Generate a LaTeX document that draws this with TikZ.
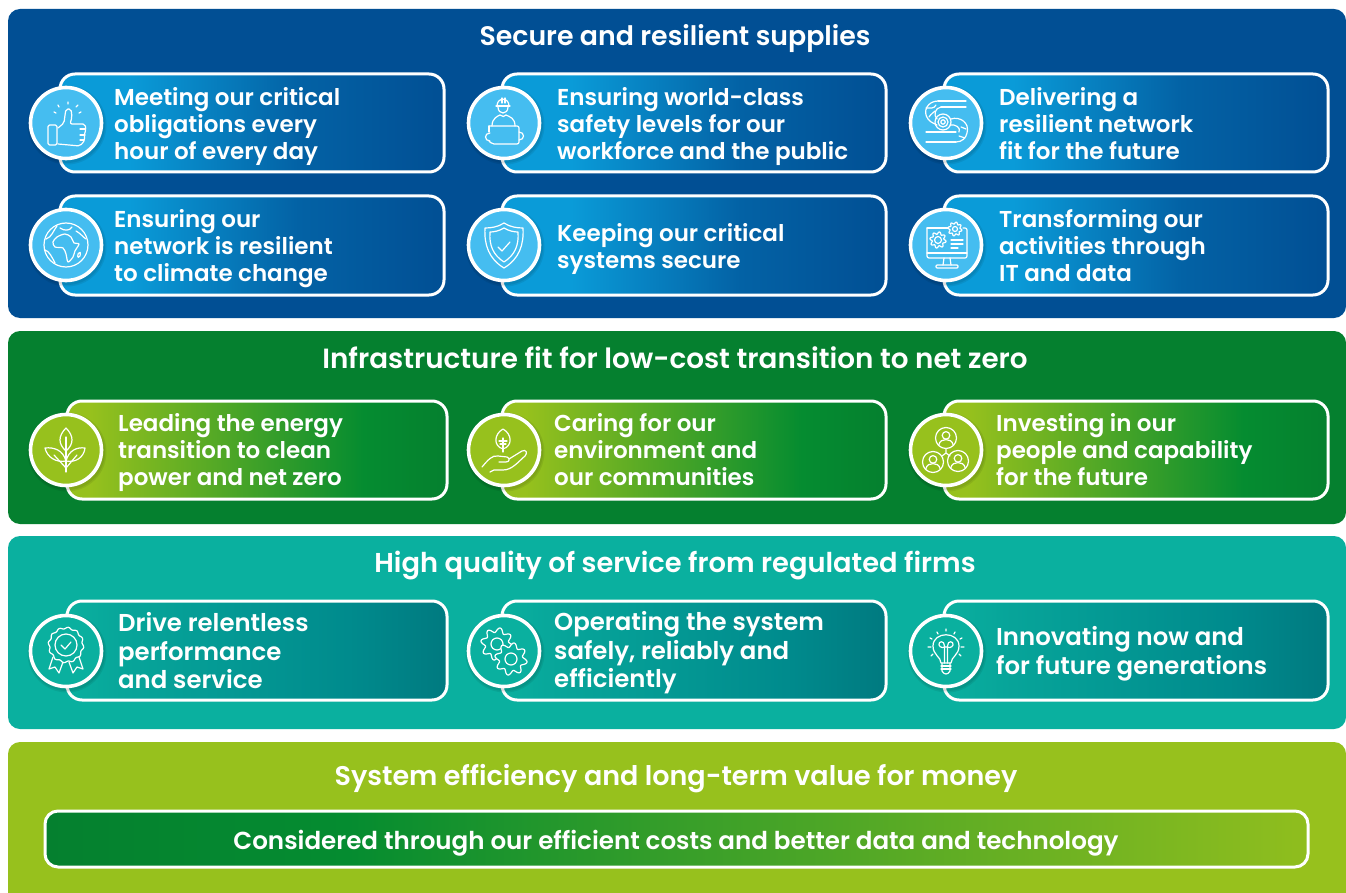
\documentclass[tikz,border=0pt]{standalone}
\usepackage{fontspec}
\setmainfont{Poppins}[BoldFont={Poppins SemiBold}]
\usetikzlibrary{shapes.geometric}
\definecolor{navy}{HTML}{014F94}
\definecolor{sky}{HTML}{0A9BD8}
\definecolor{skyfill}{HTML}{45BDF0}
\definecolor{forest}{HTML}{05802F}
\definecolor{forestb}{HTML}{058C30}
\definecolor{lime}{HTML}{97C11D}
\definecolor{teal2}{HTML}{0AB09F}
\definecolor{tealb}{HTML}{008B8D}
\definecolor{teald}{HTML}{007A80}
\pgfdeclarehorizontalshading{bluecard}{100bp}{color(0bp)=(sky);color(25bp)=(sky);color(34bp)=(sky);color(56bp)=(navy!75!sky);color(75bp)=(navy);color(100bp)=(navy)}
\pgfdeclarehorizontalshading{greencard}{100bp}{color(0bp)=(lime);color(25bp)=(lime);color(28bp)=(lime);color(64bp)=(forestb);color(75bp)=(forest);color(100bp)=(forest)}
\pgfdeclarehorizontalshading{tealcard}{100bp}{color(0bp)=(teal2);color(25bp)=(teal2);color(33bp)=(teal2!70!tealb);color(62bp)=(tealb);color(75bp)=(teald);color(100bp)=(teald)}
\pgfdeclarehorizontalshading{barshade}{100bp}{color(0bp)=(forest);color(25bp)=(forest);color(37bp)=(forestb);color(60bp)=(forestb!40!lime);color(75bp)=(lime!95!forest);color(100bp)=(lime!95!forest)}
\tikzset{
  x=1pt,y=-1pt,
  panel/.style={rectangle,rounded corners=12pt,inner sep=0pt,outer sep=0pt},
  cardbox/.style={rectangle,rounded corners=15pt,draw=white,line width=3pt,inner sep=0pt,minimum height=98pt},
  badge/.style={circle,draw=white,line width=3.6pt,inner sep=0pt,minimum size=71pt},
  halo/.style={fill=black,opacity=.07,circle,inner sep=0pt},
  head/.style={text=white,font=\fontsize{27}{30}\selectfont\bfseries,inner sep=0pt},
  body/.style={text=white,font=\fontsize{23}{27}\selectfont\bfseries,align=left,anchor=west,inner sep=0pt},
  tallbody/.style={body,font=\fontsize{24.4}{28.5}\selectfont\bfseries},
  ic/.style={draw=white,line width=1.2pt,line cap=round,line join=round},
}
\newcommand{\mkbadge}[4]{%
  \node[halo,minimum size=79pt] at (#2+1,#3+2) {};
  \node[halo,minimum size=76pt] at (#2+1,#3+2) {};
  \node[badge,fill=#4] (#1) at (#2,#3) {};
}
\newcommand{\gearic}[4]{% x y r teeth
  \draw[ic] plot[domain=0:360,samples=73,smooth] ({#1+#3*(1+.17*sin(#4*\x))*cos(\x)},{#2+#3*(1+.17*sin(#4*\x))*sin(\x)}) -- cycle;
}
\newcommand{\icthumb}[2]{\begin{scope}[shift={(#1,#2)},ic]
  \draw[ic,rounded corners=1.5pt] (-18,2) rectangle (-9,22);
  \draw[ic,rounded corners=2pt] (-8,5) -- (-2,0) -- (-1,-8) -- (0,-14) -- (5,-14) -- (6,-6) -- (4,1) -- (19,1) -- (20,7) -- (18,12) -- (19,17) -- (14,23) -- (-8,21);
  \draw[ic] (14,6) -- (19,6) (14,12) -- (19,12) (14,17) -- (18,17);
  \draw[ic] (2,-21) -- (2,-19) (-8,-18) -- (-7,-16) (12,-18) -- (10,-16) (-12,-11) -- (-10,-10) (15,-11) -- (13,-10);
\end{scope}}
\newcommand{\icglobe}[2]{\begin{scope}[shift={(#1,#2)}]
  \draw[ic] (0,0) circle[radius=22];
  \draw[ic] plot[smooth cycle] coordinates {(-9,-8)(-1,-11)(5,-8)(8,-2)(13,-1)(9,6)(7,12)(2,17)(0,9)(-3,3)(-11,2)(-13,-3)};
  \draw[ic] (-20,-6) .. controls (-14,-8) and (-13,-14) .. (-9,-19);
  \draw[ic] (-6,-17) .. controls (-2,-14) and (4,-14) .. (6,-18);
  \draw[ic] (10,-14) .. controls (14,-12) and (17,-8) .. (20,-6);
  \draw[ic] (-21,5) .. controls (-17,6) and (-14,12) .. (-11,18);
  \draw[ic] (12,9) .. controls (14,7) and (15,6) .. (14,11) .. controls (13,13) and (11,13) .. (12,9);
\end{scope}}
\newcommand{\icworker}[2]{\begin{scope}[shift={(#1,#2)}]
  \draw[ic] (-7,-17) .. controls (-7,-26) and (5,-26) .. (5,-17);
  \draw[ic] (-8,-17) -- (6,-17);
  \draw[ic] (-6,-16) .. controls (-6,-8) and (4,-8) .. (4,-16);
  \draw[ic] (-2,-25) -- (-2,-20) (1,-25) -- (1,-20);
  \draw[ic] (-12,3) .. controls (-12,-5) and (-6,-7) .. (-4,-8) .. controls (-2,-6) and (1,-6) .. (2,-8) .. controls (6,-6) and (11,-5) .. (11,3);
  \draw[ic,rounded corners=2pt] (-15,3) -- (15,3) -- (15,21) -- (-12,21) -- (-15,18) ;
  \draw[ic] (-15,3) -- (-15,9);
  \draw[ic] (-14,10) .. controls (-20,10) and (-20,18) .. (-14,18);
  \draw[ic] (15,9) .. controls (21,9) and (21,17) .. (15,17);
\end{scope}}
\newcommand{\icshield}[2]{\begin{scope}[shift={(#1,#2)}]
  \draw[ic] (0,-22) .. controls (6,-18) and (13,-17) .. (19,-17) .. controls (20,0) and (15,14) .. (0,23) .. controls (-15,14) and (-20,0) .. (-19,-17) .. controls (-13,-17) and (-6,-18) .. (0,-22) -- cycle;
  \draw[ic] (0,-17) .. controls (5,-14) and (10,-13) .. (14,-13) .. controls (15,0) and (11,10) .. (0,17) .. controls (-11,10) and (-15,0) .. (-14,-13) .. controls (-10,-13) and (-5,-14) .. (0,-17) -- cycle;
  \draw[ic] (-6,2) -- (-2,6) -- (6,-3);
\end{scope}}
\newcommand{\icpipe}[2]{\begin{scope}[shift={(#1,#2)}]
  \draw[ic] (-8,-22) -- (20,-22) (-5,-16) -- (20,-16);
  \draw[ic] (-8,-22) .. controls (-18,-22) and (-24,-12) .. (-18,-4) .. controls (-15,0) and (-12,0) .. (-9,2);
  \draw[ic] (-5,-16) .. controls (-11,-15) and (-13,-8) .. (-9,-4);
  \draw[ic] (-20,-15) .. controls (-16,-15) and (-12,-14) .. (-10,-18);
  \draw[ic] (-17,-6) .. controls (-15,-9) and (-12,-11) .. (-11,-12);
  \draw[ic] (-3,-1) circle[radius=8] (-3,-1) circle[radius=5] (-3,-1) circle[radius=2.2];
  \draw[ic] (5,-4) .. controls (14,-7) and (24,0) .. (21,10) .. controls (20,15) and (16,19) .. (10,19);
  \draw[ic] (4,2) .. controls (10,1) and (15,5) .. (13,9);
  \draw[ic] (-20,9) -- (10,9) (-20,19) -- (10,19);
  \draw[ic] (15,4) -- (20,6) (13,13) -- (19,15);
\end{scope}}
\newcommand{\icmonitor}[2]{\begin{scope}[shift={(#1,#2)}]
  \draw[ic,rounded corners=2pt] (-19,-17) -- (2,-17);
  \draw[ic,rounded corners=2pt] (17,-17) -- (21,-17) -- (21,13) -- (-19,13) -- (-19,-17);
  \draw[ic] (-19,8) -- (21,8);
  \draw[ic] (-2,13) -- (-3,20) (4,13) -- (5,20);
  \draw[ic,rounded corners=1pt] (-10,20) rectangle (12,23);
  \gearic{-8}{-5}{7}{8}
  \draw[ic] (-8,-5) circle[radius=3.5];
  \gearic{9}{-16}{6}{8}
  \draw[ic] (9,-16) circle[radius=2.5];
  \draw[ic] (5,-5) -- (17,-5) (5,-1) -- (17,-1) (5,3) -- (12,3);
\end{scope}}
\newcommand{\icplant}[2]{\begin{scope}[shift={(#1,#2)}]
  \draw[ic] (0,-22) .. controls (-8,-14) and (-8,-6) .. (0,1) .. controls (8,-6) and (8,-14) .. (0,-22) -- cycle;
  \draw[ic] (0,-13) -- (0,22);
  \draw[ic] (0,11) .. controls (-3,0) and (-12,-3) .. (-21,-2) .. controls (-19,7) and (-10,13) .. (0,11);
  \draw[ic] (0,11) .. controls (3,0) and (11,-3) .. (19,-2) .. controls (18,7) and (10,13) .. (0,11);
  \draw[ic] (0,18) -- (-12,5) (0,18) -- (11,5);
\end{scope}}
\newcommand{\ichand}[2]{\begin{scope}[shift={(#1,#2)}]
  \draw[ic] (-1,-21) .. controls (-10,-16) and (-11,-4) .. (-1,-1) .. controls (9,-4) and (8,-16) .. (-1,-21) -- cycle;
  \draw[ic] (-1,-12) -- (-1,-1) (-5,-9) -- (3,-9) (-4,-6) -- (2,-6);
  \draw[ic] (-1,-1) -- (-1,2);
  \draw[ic] (-22,17) .. controls (-16,10) and (-12,5) .. (-6,6) -- (3,7) .. controls (6,8) and (6,12) .. (2,12) -- (-5,12);
  \draw[ic] (5,9) -- (18,1) .. controls (22,-1) and (24,3) .. (21,6) .. controls (14,12) and (8,20) .. (-1,20) -- (-10,20) -- (-14,22);
\end{scope}}
\newcommand{\personic}[3]{%
  \draw[ic] (#1,#2) circle[radius=#3];
  \draw[ic] (#1,#2-0.25*#3) circle[radius=0.36*#3];
  \draw[ic] (#1-0.7*#3,#2+0.7*#3) .. controls (#1-0.6*#3,#2+0.25*#3) and (#1-0.3*#3,#2+0.15*#3) .. (#1,#2+0.15*#3) .. controls (#1+0.3*#3,#2+0.15*#3) and (#1+0.6*#3,#2+0.25*#3) .. (#1+0.7*#3,#2+0.7*#3);
}
\newcommand{\icpeople}[2]{\begin{scope}[shift={(#1,#2)}]
  \personic{0}{-12}{10.5}
  \personic{-13}{12}{10.5}
  \personic{12}{11}{10.5}
  \draw[ic] (0,-1) -- (0,3) -- (-4,6) (0,3) -- (4,6);
\end{scope}}
\newcommand{\icrosette}[2]{\begin{scope}[shift={(#1,#2)}]
  \draw[ic] plot[domain=0:360,samples=97,smooth] ({17*(1+.05*sin(12*\x))*cos(\x)},{-6+17*(1+.05*sin(12*\x))*sin(\x)}) -- cycle;
  \draw[ic] (0,-6) circle[radius=11];
  \draw[ic] (-5,-6) -- (-1,-2) -- (5,-9);
  \draw[ic] (-13,6) -- (-17,18) -- (-11,16) -- (-7,22) -- (-3,11);
  \draw[ic] (13,6) -- (17,18) -- (11,16) -- (7,22) -- (3,11);
\end{scope}}
\newcommand{\icgears}[2]{\begin{scope}[shift={(#1,#2)}]
  \gearic{-7}{-7}{14}{8}
  \draw[ic] (-7,-7) circle[radius=6];
  \draw[ic,fill=teal2] plot[domain=0:360,samples=73,smooth] ({7+14*(1+.17*sin(8*\x))*cos(\x)},{8+14*(1+.17*sin(8*\x))*sin(\x)}) -- cycle;
  \draw[ic] (7,8) circle[radius=6];
\end{scope}}
\newcommand{\icbulb}[2]{\begin{scope}[shift={(#1,#2)}]
  \draw[ic] (-5,12) .. controls (-5,6) and (-13,4) .. (-13,-5) .. controls (-13,-20) and (13,-20) .. (13,-5) .. controls (13,4) and (5,6) .. (5,12) -- cycle;
  \draw[ic] (-5,15) -- (5,15) (-5,18) -- (5,18);
  \draw[ic] (-4,12) -- (-4,20) .. controls (-2,24) and (2,24) .. (4,20) -- (4,12);
  \draw[ic] (-1.5,12) -- (-1.5,-5) .. controls (-1.5,-11) and (-8,-10) .. (-7,-6) .. controls (-6,-3) and (-2,-3) .. (0,-4) .. controls (2,-3) and (6,-3) .. (7,-6) .. controls (8,-10) and (1.5,-11) .. (1.5,-5) -- (1.5,12);
  \draw[ic] (0,-22) -- (0,-20) (-9,-19) -- (-8,-17) (9,-19) -- (8,-17) (-16,-13) -- (-14,-12) (16,-13) -- (14,-12) (-18,-4) -- (-15,-4) (18,-4) -- (15,-4) (-15,5) -- (-13,3) (15,5) -- (13,3);
\end{scope}}
\begin{document}
\begin{tikzpicture}
\useasboundingbox (0,0) rectangle (1346,893);
\fill[white] (0,0) rectangle (1346,893);
% panels
\node[panel,fill=navy,minimum width=1338pt,minimum height=309pt] (panelA) at (677,163.5) {};
\node[panel,fill=forest,minimum width=1338pt,minimum height=193pt] (panelB) at (677,427.5) {};
\node[panel,fill=teal2,minimum width=1338pt,minimum height=193pt] (panelC) at (677,632.5) {};
\fill[lime] (8,893) [rounded corners=12pt] -- (8,742) -- (1346,742) [sharp corners] -- (1346,893) -- cycle;
% headings
\node[head,font=\fontsize{26.8}{30}\selectfont\bfseries] (hA) at (675,39) {Secure and resilient supplies};
\node[head,font=\fontsize{27.8}{30}\selectfont\bfseries] (hB) at (675,358) {Infrastructure fit for low-cost transition to net zero};
\node[head,font=\fontsize{27.3}{30}\selectfont\bfseries] (hC) at (675,566) {High quality of service from regulated firms};
\node[head] (hD) at (676,779) {System efficiency and long-term value for money};
% blue cards
\node[cardbox,shading=bluecard,minimum width=384pt] (a1) at (252,123) {};
\node[cardbox,shading=bluecard,minimum width=384pt] (a2) at (694,123) {};
\node[cardbox,shading=bluecard,minimum width=384pt] (a3) at (1136,123) {};
\node[cardbox,shading=bluecard,minimum width=384pt,minimum height=99pt] (a4) at (252,245.5) {};
\node[cardbox,shading=bluecard,minimum width=384pt,minimum height=99pt] (a5) at (694,245.5) {};
\node[cardbox,shading=bluecard,minimum width=384pt,minimum height=99pt] (a6) at (1136,245.5) {};
% green cards
\node[cardbox,shading=greencard,minimum width=380pt] (b1) at (257,450) {};
\node[cardbox,shading=greencard,minimum width=384pt] (b2) at (694,450) {};
\node[cardbox,shading=greencard,minimum width=384pt] (b3) at (1136,450) {};
% teal cards
\node[cardbox,shading=tealcard,minimum width=380pt,minimum height=99pt] (c1) at (257,650.5) {};
\node[cardbox,shading=tealcard,minimum width=384pt,minimum height=99pt] (c2) at (694,650.5) {};
\node[cardbox,shading=tealcard,minimum width=384pt,minimum height=99pt] (c3) at (1136,650.5) {};
% bar
\node[cardbox,shading=barshade,minimum width=1263pt,minimum height=56pt,rounded corners=13pt] (d1) at (676.5,839) {};
% badges
\mkbadge{ba1}{66}{123}{skyfill}
\mkbadge{ba2}{504}{123}{skyfill}
\mkbadge{ba3}{946}{123}{skyfill}
\mkbadge{ba4}{66}{245}{skyfill}
\mkbadge{ba5}{504}{245}{skyfill}
\mkbadge{ba6}{946}{245}{skyfill}
\mkbadge{bb1}{66}{450}{lime}
\mkbadge{bb2}{504}{450}{lime}
\mkbadge{bb3}{946}{450}{lime}
\mkbadge{bc1}{66}{651}{teal2}
\mkbadge{bc2}{504}{651}{teal2}
\mkbadge{bc3}{946}{651}{teal2}
% icons
\icthumb{66}{123}
\icworker{504}{123}
\icpipe{946}{123}
\icglobe{66}{245}
\icshield{504}{245}
\icmonitor{946}{245}
\icplant{66}{450}
\ichand{504}{450}
\icpeople{946}{450}
\icrosette{66}{651}
\icgears{504}{651}
\icbulb{946}{651}
% texts
\node[body] (ta1) at (114,126) {Meeting our critical\\obligations every\\hour of every day};
\node[body] (ta2) at (557,127) {Ensuring world-class\\safety levels for our\\workforce and the public};
\node[body] (ta3) at (999,124) {Delivering a\\resilient network\\fit for the future};
\node[body] (ta4) at (114,249) {Ensuring our\\network is resilient\\to climate change};
\node[body] (ta5) at (557,249) {Keeping our critical\\systems secure};
\node[body] (ta6) at (999,246) {Transforming our\\activities through\\IT and data};
\node[body] (tb1) at (118,453) {Leading the energy\\transition to clean\\power and net zero};
\node[body] (tb2) at (554,450) {Caring for our\\environment and\\our communities};
\node[body] (tb3) at (996,450) {Investing in our\\people and capability\\for the future};
\node[tallbody] (tc1) at (118,651) {Drive relentless\\performance\\and service};
\node[tallbody] (tc2) at (554,653) {Operating the system\\safely, reliably and\\efficiently};
\node[tallbody] (tc3) at (996,654) {Innovating now and\\for future generations};
\node[head,font=\fontsize{24.6}{29}\selectfont\bfseries] (td1) at (676,843) {Considered through our efficient costs and better data and technology};
\end{tikzpicture}
\end{document}
